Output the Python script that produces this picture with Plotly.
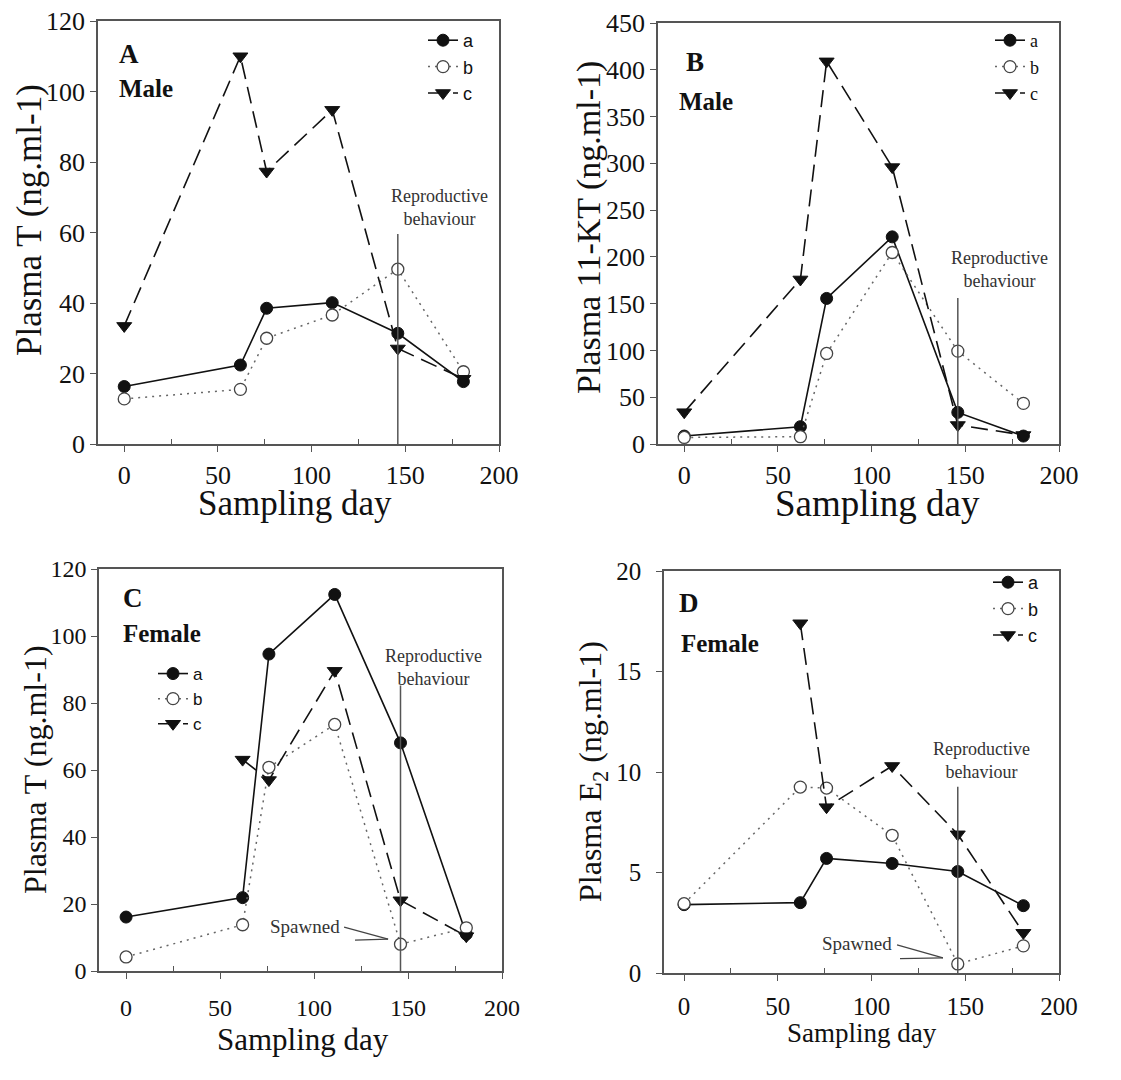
import plotly.graph_objects as go

W, H = 1121, 1080

# ---------------- data ----------------
days = [0, 62, 76, 111, 146, 181]
days_c_female = [62, 76, 111, 146, 181]
series_names = ["a", "b", "c"]

A_a = [16.3, 22.4, 38.5, 40.1, 31.4, 17.7]
A_b = [12.8, 15.5, 30.0, 36.6, 49.6, 20.5]
A_c = [33.5, 110.0, 77.3, 94.8, 27.1, 18.5]

B_a = [8.5, 18.5, 155.6, 221.4, 33.8, 8.5]
B_b = [7.0, 7.8, 96.8, 204.7, 99.3, 43.4]
B_c = [34.0, 175.9, 409.0, 296.0, 20.3, 9.6]

C_a = [16.1, 21.9, 94.6, 112.4, 68.1, 11.0]
C_b = [4.2, 13.8, 60.8, 73.6, 8.0, 12.9]
C_c = [63.1, 57.0, 89.6, 21.1, 10.4]

D_a = [3.4, 3.5, 5.7, 5.45, 5.05, 3.35]
D_b = [3.45, 9.25, 9.2, 6.85, 0.45, 1.35]
D_c = [17.4, 8.25, 10.3, 6.9, 2.0]

x_ticks = [0, 50, 100, 150, 200]
A_yticks = [0, 20, 40, 60, 80, 100, 120]
B_yticks = [0, 50, 100, 150, 200, 250, 300, 350, 400, 450]
C_yticks = [0, 20, 40, 60, 80, 100, 120]
D_yticks = [0, 5, 10, 15, 20]

SERIF = "Liberation Serif"
SANS = "Liberation Sans"
INK = "#111111"
AX = "#555555"


def px(x):
    return x / W


def py(y):
    return 1 - y / H


panels = [
    dict(k="A", xd=(98, 499), yd=(21, 444), xr=[-14, 200], yr=[0, 120],
         xs=[days, days, days], ys=[A_a, A_b, A_c], yt=A_yticks,
         tickfont=26, ystand=0, xstand=1, legend="legend"),
    dict(k="B", xd=(658, 1059), yd=(23, 444), xr=[-14, 200], yr=[0, 450],
         xs=[days, days, days], ys=[B_a, B_b, B_c], yt=B_yticks,
         tickfont=26, ystand=0, xstand=1, legend="legend2"),
    dict(k="C", xd=(99, 502), yd=(569, 971), xr=[-14.4, 200], yr=[0, 120],
         xs=[days, days, days_c_female], ys=[C_a, C_b, C_c], yt=C_yticks,
         tickfont=24, ystand=0, xstand=8, legend="legend3"),
    dict(k="D", xd=(664, 1059), yd=(571, 973), xr=[-10.7, 200], yr=[0, 20],
         xs=[days, days, days_c_female], ys=[D_a, D_b, D_c], yt=D_yticks,
         tickfont=25, ystand=10, xstand=4, legend="legend4"),
]

styles = [
    dict(line=dict(color=INK, width=1.6, dash="solid"),
         marker=dict(symbol="circle", size=12, color=INK,
                     line=dict(color=INK, width=1))),
    dict(line=dict(color="#666666", width=1.5, dash="2px,5px"),
         marker=dict(symbol="circle", size=12, color="white",
                     line=dict(color="#444444", width=1.3))),
    dict(line=dict(color=INK, width=1.6, dash="17px,8px"),
         marker=dict(symbol="triangle-down", size=13, color=INK,
                     line=dict(color=INK, width=1))),
]

fig = go.Figure()
layout = {}
for i, p in enumerate(panels):
    n = "" if i == 0 else str(i + 1)
    xa, ya = "x" + n, "y" + n
    for j in range(3):
        fig.add_trace(go.Scatter(
            x=p["xs"][j], y=p["ys"][j], name=series_names[j],
            mode="lines+markers", xaxis=xa, yaxis=ya,
            legend=p["legend"], line=styles[j]["line"],
            marker=styles[j]["marker"], cliponaxis=False,
        ))
    layout["xaxis" + n] = dict(
        domain=[px(p["xd"][0]), px(p["xd"][1])], range=p["xr"],
        anchor=ya, tickmode="array", tickvals=x_ticks,
        ticktext=[str(v) for v in x_ticks], ticks="outside", ticklen=6,
        tickwidth=1.3, tickcolor=AX, showline=True, linecolor=AX,
        linewidth=1.5, mirror=True, showgrid=False, zeroline=False,
        automargin=False,
        tickfont=dict(family=SERIF, size=p["tickfont"], color=INK),
        ticklabelstandoff=p["xstand"],
        minor=dict(tickvals=[25, 75, 125, 175], ticks="inside", ticklen=5,
                   tickwidth=1.2, tickcolor=AX, showgrid=False),
    )
    layout["yaxis" + n] = dict(
        domain=[py(p["yd"][1]), py(p["yd"][0])], range=p["yr"],
        anchor=xa, tickmode="array", tickvals=p["yt"],
        ticktext=[str(v) for v in p["yt"]], ticks="outside", ticklen=6,
        tickwidth=1.3, tickcolor=AX, showline=True, linecolor=AX,
        linewidth=1.5, mirror=True, showgrid=False, zeroline=False,
        automargin=False,
        tickfont=dict(family=SERIF, size=p["tickfont"], color=INK),
        ticklabelstandoff=p["ystand"],
    )


def leg(text_x, first_row_y, family, size):
    return dict(x=px(text_x - 40), y=py(first_row_y - 19),
                xanchor="left", yanchor="top", bgcolor="rgba(0,0,0,0)",
                borderwidth=0, font=dict(family=family, size=size, color=INK),
                tracegroupgap=0, itemwidth=30)


layout["legend"] = leg(463, 41, SANS, 18)
layout["legend2"] = leg(1030, 41, SERIF, 18)
layout["legend3"] = leg(193, 675, SANS, 17)
layout["legend4"] = leg(1028, 583, SANS, 18)

annotations = []
ytitles = [
    ("Plasma T (ng.ml-1)", 29, 220, 35),
    ("Plasma 11-KT (ng.ml-1)", 589, 228, 34),
    ("Plasma T (ng.ml-1)", 35, 770, 32),
    ("Plasma E<sub>2</sub> (ng.ml-1)", 592, 772, 32),
]
for t, x, y, s in ytitles:
    annotations.append(dict(text=t, x=px(x), y=py(y), xref="paper", yref="paper",
                            textangle=-90, showarrow=False, xanchor="center",
                            yanchor="middle", font=dict(family=SERIF, size=s, color=INK)))
xtitles = [(295, 503, 35), (877, 503, 37), (303, 1039, 31), (862, 1033, 27)]
for x, y, s in xtitles:
    annotations.append(dict(text="Sampling day", x=px(x), y=py(y), xref="paper",
                            yref="paper", showarrow=False, xanchor="center",
                            yanchor="middle", font=dict(family=SERIF, size=s, color=INK)))
labels = [
    ("<b>A</b>", 117, 54, 27), ("<b>Male</b>", 117, 88, 25),
    ("<b>B</b>", 684, 62, 27), ("<b>Male</b>", 677, 101, 25),
    ("<b>C</b>", 121, 598, 27), ("<b>Female</b>", 121, 633, 25),
    ("<b>D</b>", 677, 603, 27), ("<b>Female</b>", 679, 643, 25),
]
for t, x, y, s in labels:
    annotations.append(dict(text=t, x=px(x), y=py(y), xref="paper", yref="paper",
                            showarrow=False, xanchor="left", yanchor="middle",
                            font=dict(family=SERIF, size=s, color=INK)))

repro = [("", 168, 67.1, 59.6), ("2", 168, 186, 156), ("3", 163.3, 90.6, 85.2),
         ("4", 158.8, 10.56, 9.27)]
shapes = []
for n, tx, ty, top in repro:
    annotations.append(dict(text="Reproductive<br>behaviour", x=tx, y=ty,
                            xref="x" + n, yref="y" + n, showarrow=False,
                            xanchor="center", yanchor="middle",
                            font=dict(family=SERIF, size=18, color="#333333")))
    shapes.append(dict(type="line", xref="x" + n, yref="y" + n, x0=146, x1=146,
                       y0=0, y1=top, line=dict(color="#555555", width=1.5)))

spawn = [("3", 115, 13.3, (116, 13.1), (121.8, 9.2), (139.4, 9.5)),
         ("4", 112, 1.45, (113.6, 1.4), (115.2, 0.72), (138.1, 0.75))]
for n, tx, ty, up, lo, tip in spawn:
    annotations.append(dict(text="Spawned", x=tx, y=ty, xref="x" + n, yref="y" + n,
                            showarrow=False, xanchor="right", yanchor="middle",
                            font=dict(family=SERIF, size=19, color="#333333")))
    for s in (up, lo):
        shapes.append(dict(type="line", xref="x" + n, yref="y" + n, x0=s[0], y0=s[1],
                           x1=tip[0], y1=tip[1], line=dict(color="#444444", width=1.2)))

fig.update_layout(
    width=W, height=H, margin=dict(l=0, r=0, t=0, b=0, autoexpand=False),
    font=dict(family=SERIF, size=26, color=INK),
    paper_bgcolor="white", plot_bgcolor="white",
    annotations=annotations, shapes=shapes, showlegend=True,
    **layout,
)

fig.write_html("out.html")
